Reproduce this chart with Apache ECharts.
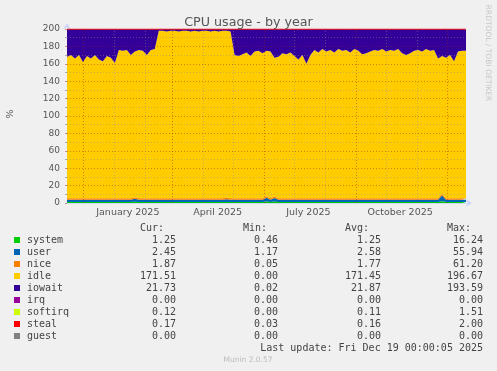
<!DOCTYPE html>
<html><head><meta charset="utf-8">
<script src="https://cdn.jsdelivr.net/npm/echarts@6/dist/echarts.min.js"></script>
<style>html,body{margin:0;padding:0;background:#F0F0F0}#c{width:497px;height:371px}</style>
</head><body><div id="c"></div>
<script>
// ---- time frame (days counted from the left edge of the graph) ----
const startDate = Date.UTC(2024, 10, 15);   // Nov 15 2024
const sampleStep = 4;                        // one reading every 4 days

// ---- series values (percent, 2 CPUs => 200%) ----
const system = [1.2,1.2,1.2,1.2,1.2,1.2,1.2,1.2,1.2,1.2,1.2,1.2,1.2,1.2,1.2,1.2,1.2,1.4,1.2,1.2,
  1.2,1.2,1.2,1.2,1.2,1.2,1.2,1.2,1.2,1.2,1.2,1.2,1.2,1.2,1.2,1.2,1.2,1.2,1.2,1.2,
  1.2,1.2,1.2,1.2,1.2,1.2,1.2,1.2,1.2,1.2,1.6,1.2,1.8,1.2,1.2,1.2,1.2,1.2,1.2,1.2,
  1.2,1.2,1.2,1.2,1.2,1.2,1.2,1.2,1.2,1.2,1.2,1.2,1.2,1.2,1.2,1.2,1.2,1.2,1.2,1.2,
  1.2,1.2,1.2,1.2,1.2,1.2,1.2,1.2,1.2,1.2,1.2,1.2,1.2,1.2,2.0,1.2,1.2,1.2,1.2,1.2,1.2];
const user = [2.5,2.5,2.5,2.5,2.5,2.5,2.5,2.5,2.5,2.5,2.5,2.5,2.5,2.5,2.5,2.5,2.5,3.5,2.5,2.5,
  2.5,2.5,2.5,2.5,2.5,2.5,2.5,2.5,2.5,2.5,2.5,2.5,2.5,2.5,2.5,2.5,2.5,2.5,2.5,2.5,
  3.2,2.5,2.5,2.5,2.5,2.5,2.5,2.5,2.5,2.5,4.5,2.5,4.0,2.5,2.5,2.5,2.5,2.5,2.5,2.5,
  2.5,2.5,2.5,2.5,2.5,2.5,2.5,2.5,2.5,2.5,2.5,2.5,2.5,2.5,2.5,2.5,2.5,2.5,2.5,2.5,
  2.5,2.5,2.5,2.5,2.5,2.5,2.5,2.5,2.5,2.5,2.5,2.5,2.5,2.5,6.5,2.5,2.5,2.5,2.5,2.5,2.5];
const nice = [1.8,1.8,1.8,1.8,1.8,1.8,1.8,1.8,1.8,1.8,1.8,1.8,1.8,1.8,1.8,1.8,1.8,1.8,1.8,1.8,
  1.8,1.8,1.8,1.8,1.8,1.8,1.8,1.8,1.8,1.8,1.8,1.8,1.8,1.8,1.8,1.8,1.8,1.8,1.8,1.8,
  1.8,1.8,1.8,1.8,1.8,1.8,1.8,1.8,1.8,1.8,1.8,1.8,1.8,1.8,1.8,1.8,1.8,1.8,1.8,1.8,
  1.8,1.8,1.8,1.8,1.8,1.8,1.8,1.8,1.8,1.8,1.8,1.8,1.8,1.8,1.8,1.8,1.8,1.8,1.8,1.8,
  1.8,1.8,1.8,1.8,1.8,1.8,1.8,1.8,1.8,1.8,1.8,1.8,1.8,1.8,1.8,1.8,1.8,1.8,1.8,1.8,1.8];
const idle = [162.5,164.5,160.5,164.5,156.5,163.5,160.5,164.5,159.5,157.5,163.5,161.5,155.5,170.5,169.5,170.5,164.5,167.3,170.5,169.5,
  164.5,170.5,171.5,192.5,192.5,191.5,192.5,192.5,191.5,192.5,192.5,191.5,192.5,191.5,192.5,192.5,191.5,192.5,191.5,192.5,
  191.8,191.5,164.5,163.5,165.5,167.5,163.5,168.5,169.5,166.5,167.1,168.5,159.4,162.5,166.5,165.5,167.5,163.5,159.5,164.5,
  154.5,164.5,170.5,167.5,171.5,168.5,170.5,167.5,171.5,169.5,170.5,167.5,171.5,169.5,165.5,166.5,168.5,170.5,169.5,171.5,
  168.5,170.5,169.5,171.5,166.5,164.5,166.5,169.5,170.5,168.5,171.5,169.5,170.5,160.5,158.7,161.5,164.5,157.5,168.5,169.5,169.5];
const iowait = [31.7,29.7,33.7,29.7,37.7,30.7,33.7,29.7,34.7,36.7,30.7,32.7,38.7,23.7,24.7,23.7,29.7,25.7,23.7,24.7,
  29.7,23.7,22.7,1.7,1.7,2.7,1.7,1.7,2.7,1.7,1.7,2.7,1.7,2.7,1.7,1.7,2.7,1.7,2.7,1.7,
  1.7,2.7,29.7,30.7,28.7,26.7,30.7,25.7,24.7,27.7,24.7,25.7,32.7,31.7,27.7,28.7,26.7,30.7,34.7,29.7,
  39.7,29.7,23.7,26.7,22.7,25.7,23.7,26.7,22.7,24.7,23.7,26.7,22.7,24.7,28.7,27.7,25.7,23.7,24.7,22.7,
  25.7,23.7,24.7,22.7,27.7,29.7,27.7,24.7,23.7,25.7,22.7,24.7,23.7,33.7,30.7,32.7,29.7,36.7,25.7,24.7,24.7];
const irq = new Array(system.length).fill(0);
const softirq = new Array(system.length).fill(0.1);
const steal = new Array(system.length).fill(0.2);
const guest = new Array(system.length).fill(0);

// ---- legend / stats table ----
const seriesNames  = ['system','user','nice','idle','iowait','irq','softirq','steal','guest'];
const seriesColors = ['#00CC00','#0066B3','#FF8000','#FFCC00','#330099','#990099','#CCFF00','#FF0000','#808080'];
const curVals = ['1.25','2.45','1.87','171.51','21.73','0.00','0.12','0.17','0.00'];
const minVals = ['0.46','1.17','0.05','0.00','0.02','0.00','0.00','0.03','0.00'];
const avgVals = ['1.25','2.58','1.77','171.45','21.87','0.00','0.11','0.16','0.00'];
const maxVals = ['16.24','55.94','61.20','196.67','193.59','0.00','1.51','2.00','0.00'];
const lastUpdate = 'Last update: Fri Dec 19 00:00:05 2025';

// ---- axis ticks ----
const monthGridDates = ['2024-12-01','2025-01-01','2025-02-01','2025-03-01','2025-04-01','2025-05-01','2025-06-01',
  '2025-07-01','2025-08-01','2025-09-01','2025-10-01','2025-11-01','2025-12-01'];
const quarterGridDates = ['2024-12-01','2025-03-01','2025-06-01','2025-09-01','2025-12-01'];
const xLabelDates = ['2025-01-15','2025-04-15','2025-07-15','2025-10-15'];
const xLabelTexts = ['January 2025','April 2025','July 2025','October 2025'];

function dayOf(s){ const p=s.split('-').map(Number); return (Date.UTC(p[0],p[1]-1,p[2])-startDate)/864e5; }
const sampleDays = system.map((_, i) => String(i * sampleStep));
const endDay = (system.length - 1) * sampleStep;

const stackData = [system,user,nice,idle,iowait,irq,softirq,steal,guest];
const series = stackData.map((arr, k) => ({
  name: seriesNames[k], type: 'line', stack: 'cpu', symbol: 'none', showSymbol: false,
  xAxisIndex: 1,
  data: arr.slice(),
  lineStyle: seriesNames[k] === 'steal' ? { width: 1, color: '#FF0000' } : { width: 0 },
  areaStyle: { color: seriesColors[k], opacity: 1 },
  itemStyle: { color: seriesColors[k] },
  animation: false, silent: true
}));

const MGRID = 'rgba(160,30,30,0.45)';
const GRID = 'rgba(140,140,140,0.45)';
const gridLines = [];
for (let v = 10; v <= 200; v += 10) {
  gridLines.push({ yAxis: v, lineStyle: { color: (v % 20 === 0) ? MGRID : GRID, type: [1, 2], width: 1 } });
}
monthGridDates.forEach(s => {
  const major = quarterGridDates.indexOf(s) >= 0;
  gridLines.push({ xAxis: dayOf(s), lineStyle: { color: major ? MGRID : GRID, type: [1, 2], width: 1 } });
});
series.push({
  name: 'grid', type: 'line', data: [], xAxisIndex: 0, z: 5, silent: true, animation: false,
  markLine: { silent: true, symbol: ['none','none'], label: { show: false }, animation: false, data: gridLines }
});

const labelMap = {};
xLabelDates.forEach((s, i) => labelMap[dayOf(s)] = xLabelTexts[i]);

// ---- legend table graphics ----
const mono = 'DejaVu Sans Mono';
const legendColor = '#444';
const g = [];
const headerY = 228, rowY0 = 240, rowH = 12;
[['Cur:',164],['Min:',267],['Avg:',369],['Max:',471]].forEach(h => {
  g.push({ type:'text', x:h[1], y:headerY, style:{ text:h[0], font:'10px "'+mono+'"', fill:legendColor, align:'right', verticalAlign:'middle' } });
});
seriesNames.forEach((n, i) => {
  const y = rowY0 + i * rowH;
  g.push({ type:'rect', shape:{ x:14, y:y-3, width:6, height:6 }, style:{ fill: seriesColors[i] } });
  g.push({ type:'text', x:27, y:y, style:{ text:n, font:'10px "'+mono+'"', fill:legendColor, align:'left', verticalAlign:'middle' } });
  [[curVals,176],[minVals,278],[avgVals,381],[maxVals,483]].forEach(c => {
    g.push({ type:'text', x:c[1], y:y, style:{ text:c[0][i], font:'10px "'+mono+'"', fill:legendColor, align:'right', verticalAlign:'middle' } });
  });
});
g.push({ type:'text', x:483, y:348, style:{ text:lastUpdate, font:'10px "'+mono+'"', fill:legendColor, align:'right', verticalAlign:'middle' } });
g.push({ type:'text', x:248, y:360, style:{ text:'Munin 2.0.57', font:'7.5px "DejaVu Sans"', fill:'#bbb', align:'center', verticalAlign:'middle' } });
g.push({ type:'text', x:11, y:114, rotation:Math.PI/2, style:{ text:'%', font:'9.5px "DejaVu Sans"', fill:'#555', align:'center', verticalAlign:'middle' } });
g.push({ type:'text', x:488, y:53, rotation:-Math.PI/2, style:{ text:'RRDTOOL / TOBI OETIKER', font:'7.5px "DejaVu Sans"', fill:'#c8c8c8', align:'center', verticalAlign:'middle' } });

const option = {
  backgroundColor: '#F0F0F0',
  animation: false,
  title: { text: 'CPU usage - by year', left: 'center', top: 11,
    textStyle: { fontFamily: 'DejaVu Sans', fontSize: 12.7, fontWeight: 'normal', color: '#555' } },
  grid: { left: 67, right: 31, top: 29, bottom: 168, containLabel: false },
  xAxis: [{
    type: 'value', min: 0, max: endDay,
    axisLine: { show: true, lineStyle: { color: '#CFD6F8', width: 1 }, symbol: ['none','arrow'], symbolSize: [6, 6], symbolOffset: [0, 6] },
    axisTick: { show: false },
    splitLine: { show: false },
    axisLabel: { customValues: xLabelDates.map(dayOf), formatter: v => labelMap[v] || '',
      fontFamily: 'DejaVu Sans', fontSize: 9.5, color: '#555', margin: 5 }
  }, {
    type: 'category', data: sampleDays, boundaryGap: false, show: false, position: 'bottom'
  }],
  yAxis: {
    type: 'value', min: 0, max: 200, interval: 20,
    axisLine: { show: true, lineStyle: { color: '#CFD6F8', width: 1 }, symbol: ['none','arrow'], symbolSize: [6, 6], symbolOffset: [0, 6] },
    axisTick: { show: true, length: 2, lineStyle: { color: MGRID } },
    minorTick: { show: true, splitNumber: 2, length: 2, lineStyle: { color: '#aaa' } },
    splitLine: { show: false },
    axisLabel: { fontFamily: 'DejaVu Sans', fontSize: 9, color: '#555', margin: 7 }
  },
  graphic: g,
  series: series
};
const chart = echarts.init(document.getElementById('c'));
chart.setOption(option);
</script></body></html>
